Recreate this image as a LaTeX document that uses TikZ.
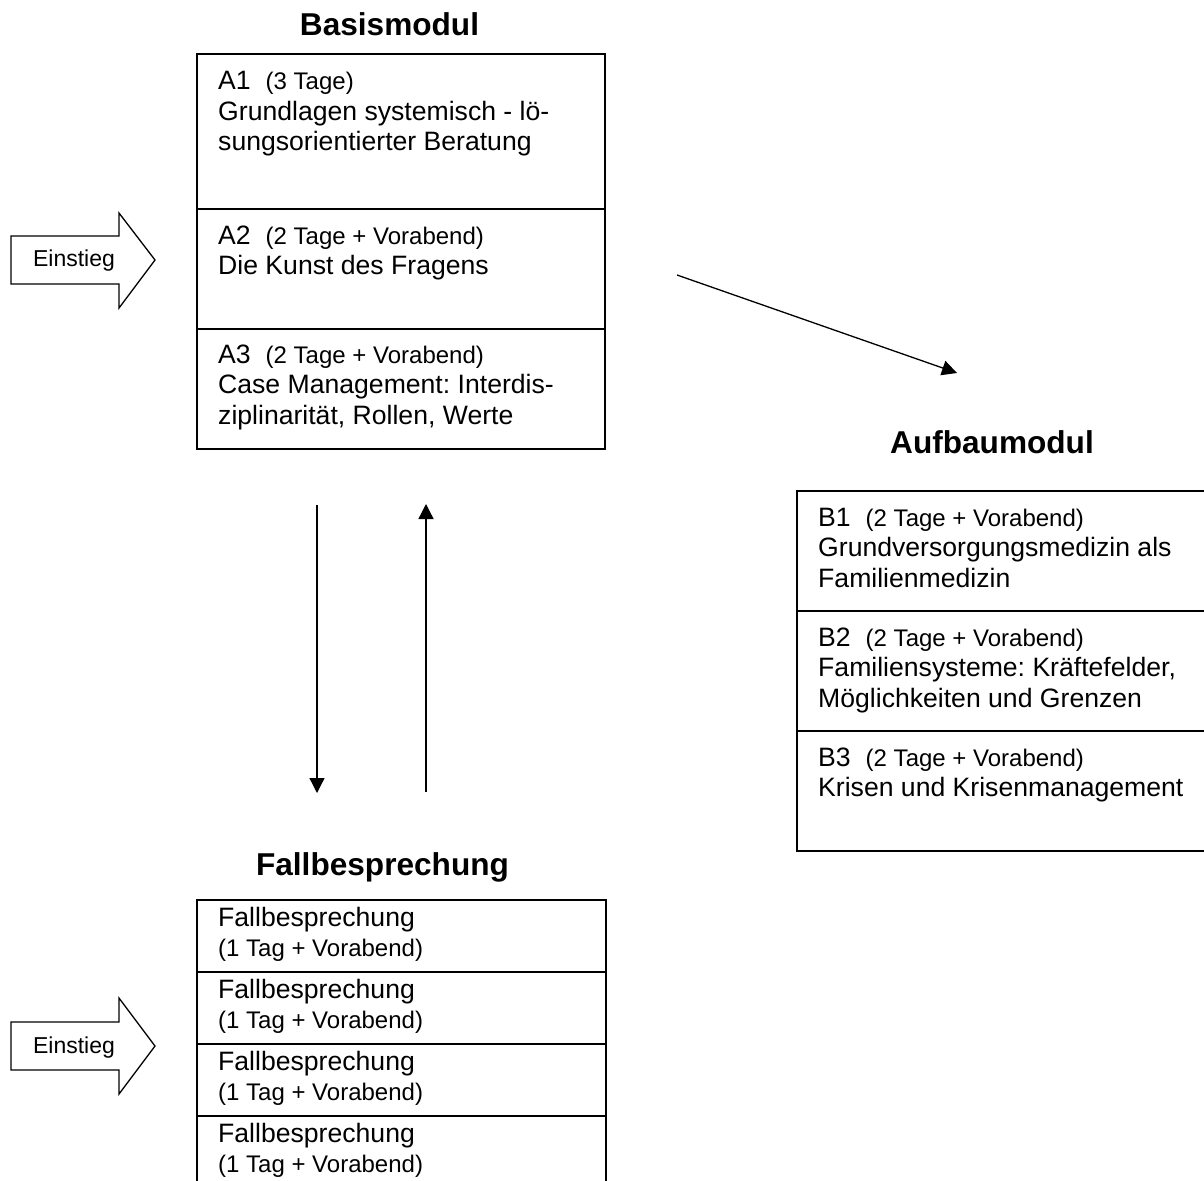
\documentclass[tikz,border=0pt]{standalone}
\usepackage{fontspec}
\setmainfont{Liberation Sans}
\usetikzlibrary{arrows.meta}
\frenchspacing
\newcommand\smtxt[1]{{\fontsize{24}{30.5}\selectfont #1}}
\begin{document}
\begin{tikzpicture}[x=1pt,y=-1pt,
  cell/.style={draw,line width=1.3pt,inner sep=0pt,outer sep=0pt,anchor=north west},
  celltext/.style={anchor=base west,inner sep=0pt,font=\fontsize{26.6}{30.5}\selectfont},
  title/.style={anchor=base,inner sep=0pt,font=\fontsize{31.6}{36}\selectfont\bfseries},
  conn/.style={line width=1.3pt,-{Triangle[length=15pt,width=15pt]}},
  ein/.style={draw,line width=1.3pt,line join=miter},
  eintext/.style={anchor=base,inner sep=0pt,font=\fontsize{23}{27}\selectfont}]
\useasboundingbox (0,0) rectangle (1204,1180);
\clip (0,0) rectangle (1204,1180);

% titles
\node[title] (tBasis) at (389.5,36) {Basismodul};
\node[title] (tAufbau) at (992,453) {Aufbaumodul};
\node[title] (tFall) at (382.5,875) {Fallbesprechung};

% Basismodul cells
\node[cell,minimum width=408pt,minimum height=155pt] (A1) at (197,54) {};
\node[cell,minimum width=408pt,minimum height=120pt] (A2) at (197,209) {};
\node[cell,minimum width=408pt,minimum height=120pt] (A3) at (197,329) {};
\node[celltext] (A1t) at (218,90) {\parbox[t]{380pt}{\raggedright A1\hspace{15pt}\smtxt{(3 Tage)}\\Grundlagen systemisch - lö-\\sungsorientierter Beratung}};
\node[celltext] (A2t) at (218,244) {\parbox[t]{380pt}{\raggedright A2\hspace{15pt}\smtxt{(2 Tage + Vorabend)}\\Die Kunst des Fragens}};
\node[celltext] (A3t) at (218,363) {\parbox[t]{380pt}{\raggedright A3\hspace{15pt}\smtxt{(2 Tage + Vorabend)}\\Case Management: Interdis-\\ziplinarität, Rollen, Werte}};

% Aufbaumodul cells
\node[cell,minimum width=420pt,minimum height=120pt] (B1) at (797,491) {};
\node[cell,minimum width=420pt,minimum height=120pt] (B2) at (797,611) {};
\node[cell,minimum width=420pt,minimum height=120pt] (B3) at (797,731) {};
\node[celltext] (B1t) at (818,526) {\parbox[t]{390pt}{\raggedright B1\hspace{15pt}\smtxt{(2 Tage + Vorabend)}\\Grundversorgungsmedizin als\\Familienmedizin}};
\node[celltext] (B2t) at (818,646) {\parbox[t]{390pt}{\raggedright B2\hspace{15pt}\smtxt{(2 Tage + Vorabend)}\\Familiensysteme: Kräftefelder,\\Möglichkeiten und Grenzen}};
\node[celltext] (B3t) at (818,766) {\parbox[t]{390pt}{\raggedright B3\hspace{15pt}\smtxt{(2 Tage + Vorabend)}\\Krisen und Krisenmanagement}};

% Fallbesprechung cells
\node[cell,minimum width=409pt,minimum height=72pt] (F1) at (197,900) {};
\node[cell,minimum width=409pt,minimum height=72pt] (F2) at (197,972) {};
\node[cell,minimum width=409pt,minimum height=72pt] (F3) at (197,1044) {};
\node[cell,minimum width=409pt,minimum height=72pt] (F4) at (197,1116) {};
\node[celltext] (F1t) at (218,926) {\parbox[t]{380pt}{\raggedright Fallbesprechung\\\smtxt{(1 Tag + Vorabend)}}};
\node[celltext] (F2t) at (218,998) {\parbox[t]{380pt}{\raggedright Fallbesprechung\\\smtxt{(1 Tag + Vorabend)}}};
\node[celltext] (F3t) at (218,1070) {\parbox[t]{380pt}{\raggedright Fallbesprechung\\\smtxt{(1 Tag + Vorabend)}}};
\node[celltext] (F4t) at (218,1142) {\parbox[t]{380pt}{\raggedright Fallbesprechung\\\smtxt{(1 Tag + Vorabend)}}};

% Einstieg arrows
\draw[ein] (11,236) -- (119,236) -- (119,213) -- (155,260) -- (119,308) -- (119,284) -- (11,284) -- cycle;
\node[eintext] (E1) at (74,266) {Einstieg};
\draw[ein] (11,1022) -- (119,1022) -- (119,998) -- (155,1046) -- (119,1094) -- (119,1070) -- (11,1070) -- cycle;
\node[eintext] (E2) at (74,1053) {Einstieg};

% connectors
\coordinate (d1) at (677,275);
\coordinate (d2) at (957,373);
\draw[conn] (d1) -- (d2);
\coordinate (v1a) at (317,505);
\coordinate (v1b) at (317,793);
\draw[conn] (v1a) -- (v1b);
\coordinate (v2a) at (426,792);
\coordinate (v2b) at (426,504);
\draw[conn] (v2a) -- (v2b);
\end{tikzpicture}
\end{document}
